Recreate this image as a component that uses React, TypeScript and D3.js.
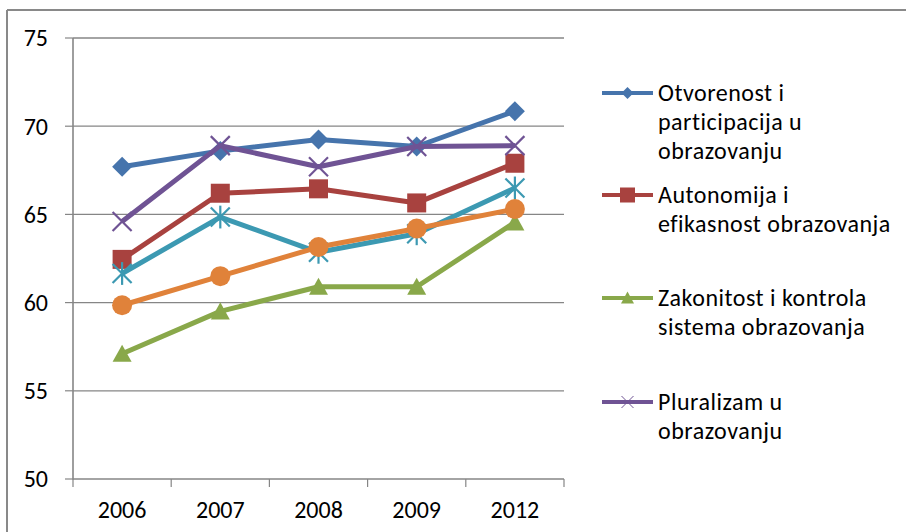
import React from "react";
import * as d3 from "d3";

const categories = ["2006", "2007", "2008", "2009", "2012"];
const yTicks = [50, 55, 60, 65, 70, 75];

const otvorenost = [67.7, 68.6, 69.25, 68.85, 70.85];
const autonomija = [62.45, 66.2, 66.45, 65.65, 67.9];
const zakonitost = [57.1, 59.5, 60.9, 60.9, 64.55];
const pluralizam = [64.6, 68.9, 67.7, 68.85, 68.9];
const serija5 = [61.65, 64.85, 62.85, 63.9, 66.5];
const serija6 = [59.85, 61.5, 63.15, 64.2, 65.3];

const seriesNames = [
  ["Otvorenost i", "participacija u", "obrazovanju"],
  ["Autonomija i", "efikasnost obrazovanja"],
  ["Zakonitost i kontrola", "sistema obrazovanja"],
  ["Pluralizam u", "obrazovanju"],
];

type Marker = "diamond" | "square" | "triangle" | "x" | "star" | "circle";

const series: { values: number[]; color: string; marker: Marker }[] = [
  { values: otvorenost, color: "#4674AC", marker: "diamond" },
  { values: autonomija, color: "#A8423F", marker: "square" },
  { values: zakonitost, color: "#89A84A", marker: "triangle" },
  { values: pluralizam, color: "#6F5394", marker: "x" },
  { values: serija5, color: "#3C99B2", marker: "star" },
  { values: serija6, color: "#E0823A", marker: "circle" },
];

const FONT = "Carlito, 'Open Sans', sans-serif";

function MarkerShape({ type, x, y, color, s, sw = 2.2 }: { type: Marker; x: number; y: number; color: string; s: number; sw?: number }) {
  const r = s / 2;
  if (type === "diamond") {
    return <path d={`M${x},${y - r}L${x + r},${y}L${x},${y + r}L${x - r},${y}Z`} fill={color} />;
  }
  if (type === "square") {
    return <rect x={x - r} y={y - r} width={s} height={s} fill={color} />;
  }
  if (type === "triangle") {
    const h = s * 0.85;
    return <path d={`M${x},${y - h / 2 - 1}L${x + r},${y + h / 2}L${x - r},${y + h / 2}Z`} fill={color} />;
  }
  if (type === "circle") {
    return <circle cx={x} cy={y} r={r} fill={color} />;
  }
  if (type === "x") {
    return (
      <g stroke={color} strokeWidth={sw}>
        <line x1={x - r} y1={y - r} x2={x + r} y2={y + r} />
        <line x1={x - r} y1={y + r} x2={x + r} y2={y - r} />
      </g>
    );
  }
  return (
    <g stroke={color} strokeWidth={sw}>
      <line x1={x - r} y1={y - r} x2={x + r} y2={y + r} />
      <line x1={x - r} y1={y + r} x2={x + r} y2={y - r} />
      <line x1={x} y1={y - r * 1.2} x2={x} y2={y + r * 1.2} />
    </g>
  );
}

export default function App() {
  const W = 906;
  const H = 532;
  const left = 73;
  const right = 564;
  const top = 38;
  const bottom = 479;

  const x = d3.scaleBand<string>().domain(categories).range([left, right]);
  const y = d3.scaleLinear().domain([50, 75]).range([bottom, top]);
  const cx = (c: string) => (x(c) as number) + x.bandwidth() / 2;
  const line = d3
    .line<number>()
    .x((_, i) => cx(categories[i]))
    .y((v) => y(v));

  const legendY = [93, 195, 298, 402];
  const lineH = 29;

  return (
    <svg
      width={W}
      height={H}
      style={{ position: "absolute", left: 0, top: 0, background: "#fff" }}
      fontFamily={FONT}
    >
      <rect width={W} height={H} fill="#fff" />
      <line x1={7} y1={10} x2={906} y2={10} stroke="#898989" strokeWidth={2} />
      <line x1={7} y1={10} x2={7} y2={532} stroke="#898989" strokeWidth={2} />

      {yTicks.map((t) => (
        <g key={t}>
          {t > 50 && (
            <line x1={left} x2={right} y1={y(t)} y2={y(t)} stroke="#868686" strokeWidth={t === 75 ? 1.6 : 1.2} />
          )}
          <line x1={left - 8} x2={left} y1={y(t)} y2={y(t)} stroke="#868686" strokeWidth={1.2} />
          <text x={48} y={y(t)} dy="0.35em" textAnchor="end" fontSize={24} fill="#000">
            {t}
          </text>
        </g>
      ))}
      <line x1={left} x2={left} y1={top} y2={bottom + 0.5} stroke="#868686" strokeWidth={1.6} />
      <line x1={left} x2={right} y1={bottom} y2={bottom} stroke="#868686" strokeWidth={1.6} />
      {[...categories.map((c) => x(c) as number), right].map((px, i) => (
        <line key={i} x1={px} x2={px} y1={bottom} y2={bottom + 8} stroke="#868686" strokeWidth={1.2} />
      ))}
      {categories.map((c) => (
        <text key={c} x={cx(c)} y={518} textAnchor="middle" fontSize={24} fill="#000">
          {c}
        </text>
      ))}

      {series.map((s, si) => (
        <g key={si}>
          <path d={line(s.values)!} fill="none" stroke={s.color} strokeWidth={5} strokeLinejoin="round" />
          {s.values.map((v, i) => (
            <MarkerShape
              key={i}
              type={s.marker}
              x={cx(categories[i])}
              y={y(v)}
              color={s.color}
              s={s.marker === "diamond" ? 20 : s.marker === "square" ? 19 : s.marker === "circle" ? 20 : 19}
            />
          ))}
        </g>
      ))}

      {seriesNames.map((lines, li) => {
        const s = series[li];
        const ly = legendY[li];
        return (
          <g key={li}>
            <line x1={602} x2={653} y1={ly} y2={ly} stroke={s.color} strokeWidth={4} />
            <MarkerShape
              type={s.marker}
              x={627.5}
              y={ly}
              color={s.color}
              sw={1}
              s={s.marker === "diamond" ? 12 : s.marker === "square" ? 15 : s.marker === "x" ? 12 : 13}
            />
            {lines.map((t, k) => (
              <text key={k} x={658} y={ly + k * lineH} dy="0.35em" fontSize={24} letterSpacing={0.5} fill="#000">
                {t}
              </text>
            ))}
          </g>
        );
      })}
    </svg>
  );
}
